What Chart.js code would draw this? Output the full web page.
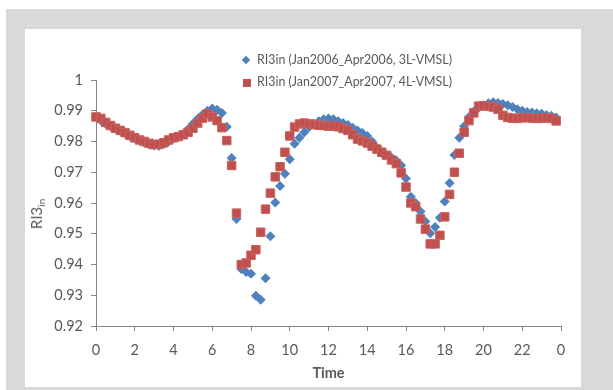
<!DOCTYPE html>
<html><head><meta charset="utf-8">
<script src="https://cdn.jsdelivr.net/npm/chart.js@4.4.1/dist/chart.umd.min.js"></script>
<style>
html,body{margin:0;padding:0;background:#fff;}
#wrap{position:relative;width:613px;height:390px;overflow:hidden;}
#frame{position:absolute;left:6px;top:9px;width:607px;height:381px;background:#d9d9d9;}
#panel{position:absolute;left:25px;top:29px;width:556px;height:358px;background:#fff;}
#c{position:absolute;left:0;top:0;}
.leg{position:absolute;left:257px;font:12.4px Lato, sans-serif;color:#595959;line-height:14px;white-space:nowrap;}
.mk{position:absolute;}
#ytitle{position:absolute;left:37px;top:214px;transform:translate(-50%,-50%) rotate(-90deg);font:15px Lato, sans-serif;color:#595959;white-space:nowrap;}
#ytitle sub{font-size:10px;vertical-align:-3px;}
</style>
</head><body>
<div id="wrap">
  <div id="frame"></div>
  <div id="panel"></div>
  <canvas id="c" width="613" height="390"></canvas>
  <div class="mk" style="left:243px;top:57px;width:6px;height:6px;background:#4F81BD;transform:rotate(45deg);"></div>
  <div class="leg" style="top:53px;">RI3in (Jan2006_Apr2006, 3L-VMSL)</div>
  <div class="mk" style="left:243px;top:79px;width:8px;height:8px;background:#C0504D;"></div>
  <div class="leg" style="top:75px;">RI3in (Jan2007_Apr2007, 4L-VMSL)</div>
  <div id="ytitle">RI3<sub>in</sub></div>
</div>
<script>
const seriesNames = ['RI3in (Jan2006_Apr2006, 3L-VMSL)', 'RI3in (Jan2007_Apr2007, 4L-VMSL)'];
const times = [0,0.25,0.5,0.75,1,1.25,1.5,1.75,2,2.25,2.5,2.75,3,3.25,3.5,3.75,4,4.25,4.5,4.75,5,5.25,5.5,5.75,6,6.25,6.5,6.75,7,7.25,7.5,7.75,8,8.25,8.5,8.75,9,9.25,9.5,9.75,10,10.25,10.5,10.75,11,11.25,11.5,11.75,12,12.25,12.5,12.75,13,13.25,13.5,13.75,14,14.25,14.5,14.75,15,15.25,15.5,15.75,16,16.25,16.5,16.75,17,17.25,17.5,17.75,18,18.25,18.5,18.75,19,19.25,19.5,19.75,20,20.25,20.5,20.75,21,21.25,21.5,21.75,22,22.25,22.5,22.75,23,23.25,23.5,23.75];
const blue2006 = [0.9880,0.9868,0.9858,0.9850,0.9842,0.9835,0.9826,0.9818,0.9810,0.9803,0.9796,0.9790,0.9787,0.9786,0.9792,0.9800,0.9810,0.9815,0.9824,0.9840,0.9858,0.9874,0.9888,0.9900,0.9907,0.9903,0.9893,0.9848,0.9746,0.9548,0.9385,0.9376,0.9370,0.9298,0.9285,0.9355,0.9492,0.9602,0.9655,0.9695,0.9742,0.9793,0.9812,0.9830,0.9847,0.9858,0.9866,0.9872,0.9875,0.9872,0.9866,0.9860,0.9854,0.9845,0.9836,0.9828,0.9818,0.9800,0.9780,0.9762,0.9756,0.9748,0.9738,0.9722,0.9680,0.9620,0.9600,0.9572,0.9540,0.9502,0.9522,0.9552,0.9605,0.9665,0.9756,0.9812,0.9850,0.9880,0.9898,0.9910,0.9918,0.9924,0.9928,0.9925,0.9922,0.9918,0.9912,0.9905,0.9900,0.9896,0.9894,0.9892,0.9890,0.9886,0.9884,0.9878];
const red2007 = [0.9880,0.9875,0.9862,0.9852,0.9843,0.9836,0.9829,0.9820,0.9812,0.9805,0.9800,0.9794,0.9790,0.9791,0.9796,0.9805,0.9812,0.9816,0.9822,0.9830,0.9843,0.9860,0.9876,0.9890,0.9880,0.9868,0.9845,0.9803,0.9722,0.9567,0.9400,0.9405,0.9430,0.9448,0.9505,0.9580,0.9632,0.9685,0.9718,0.9765,0.9818,0.9847,0.9857,0.9860,0.9857,0.9855,0.9853,0.9852,0.9850,0.9850,0.9848,0.9842,0.9836,0.9822,0.9808,0.9802,0.9795,0.9785,0.9775,0.9765,0.9755,0.9740,0.9728,0.9698,0.9652,0.9600,0.9588,0.9548,0.9515,0.9467,0.9467,0.9495,0.9555,0.9628,0.9700,0.9762,0.9830,0.9868,0.9893,0.9915,0.9916,0.9915,0.9912,0.9905,0.9885,0.9878,0.9876,0.9875,0.9877,0.9878,0.9876,0.9875,0.9876,0.9877,0.9875,0.9867];
const xTickLabels = ['0','2','4','6','8','10','12','14','16','18','20','22','0'];
const yTickLabels = ['0.92','0.93','0.94','0.95','0.96','0.97','0.98','0.99','1'];

const toPts = vals => vals.map((v, i) => ({x: times[i], y: v}));
const axisColor = '#868686';
const textColor = '#595959';

new Chart(document.getElementById('c'), {
  type: 'scatter',
  data: {
    datasets: [
      {label: seriesNames[0], data: toPts(blue2006), pointStyle: 'rectRot', pointRadius: 5,
       backgroundColor: '#4F81BD', borderColor: '#4F81BD', borderWidth: 0, order: 1, clip: false},
      {label: seriesNames[1], data: toPts(red2007), pointStyle: 'rect', pointRadius: 6,
       backgroundColor: '#C0504D', borderColor: '#C9625F', borderWidth: 1, order: 0, clip: false}
    ]
  },
  options: {
    responsive: false,
    animation: false,
    events: [],
    layout: {padding: {left: 0, top: 80, right: 52, bottom: 0}},
    plugins: {legend: {display: false}, tooltip: {enabled: false}},
    scales: {
      x: {
        type: 'linear', min: 0, max: 24,
        afterFit: s => { s.height = 64; },
        ticks: {stepSize: 2, autoSkip: false, maxRotation: 0, padding: 11,
                color: textColor, font: {family: 'Lato', size: 14.5},
                callback: (v, i) => xTickLabels[i]},
        grid: {display: true, drawOnChartArea: false, drawTicks: true, tickLength: 5, color: axisColor},
        border: {display: true, color: axisColor, width: 1},
        title: {display: true, text: 'Time', color: textColor,
                font: {family: 'Lato', size: 14.5, weight: 'bold'}, padding: {top: 0, bottom: 8}}
      },
      y: {
        min: 0.92, max: 1,
        afterFit: s => { s.width = 96; },
        ticks: {stepSize: 0.01, padding: 8, color: textColor, font: {family: 'Lato', size: 14.5},
                callback: v => yTickLabels[Math.round((v - 0.92) / 0.01)]},
        grid: {display: true, drawOnChartArea: false, drawTicks: true, tickLength: 5, color: axisColor},
        border: {display: true, color: axisColor, width: 1}
      }
    }
  }
});
</script>
</body></html>
